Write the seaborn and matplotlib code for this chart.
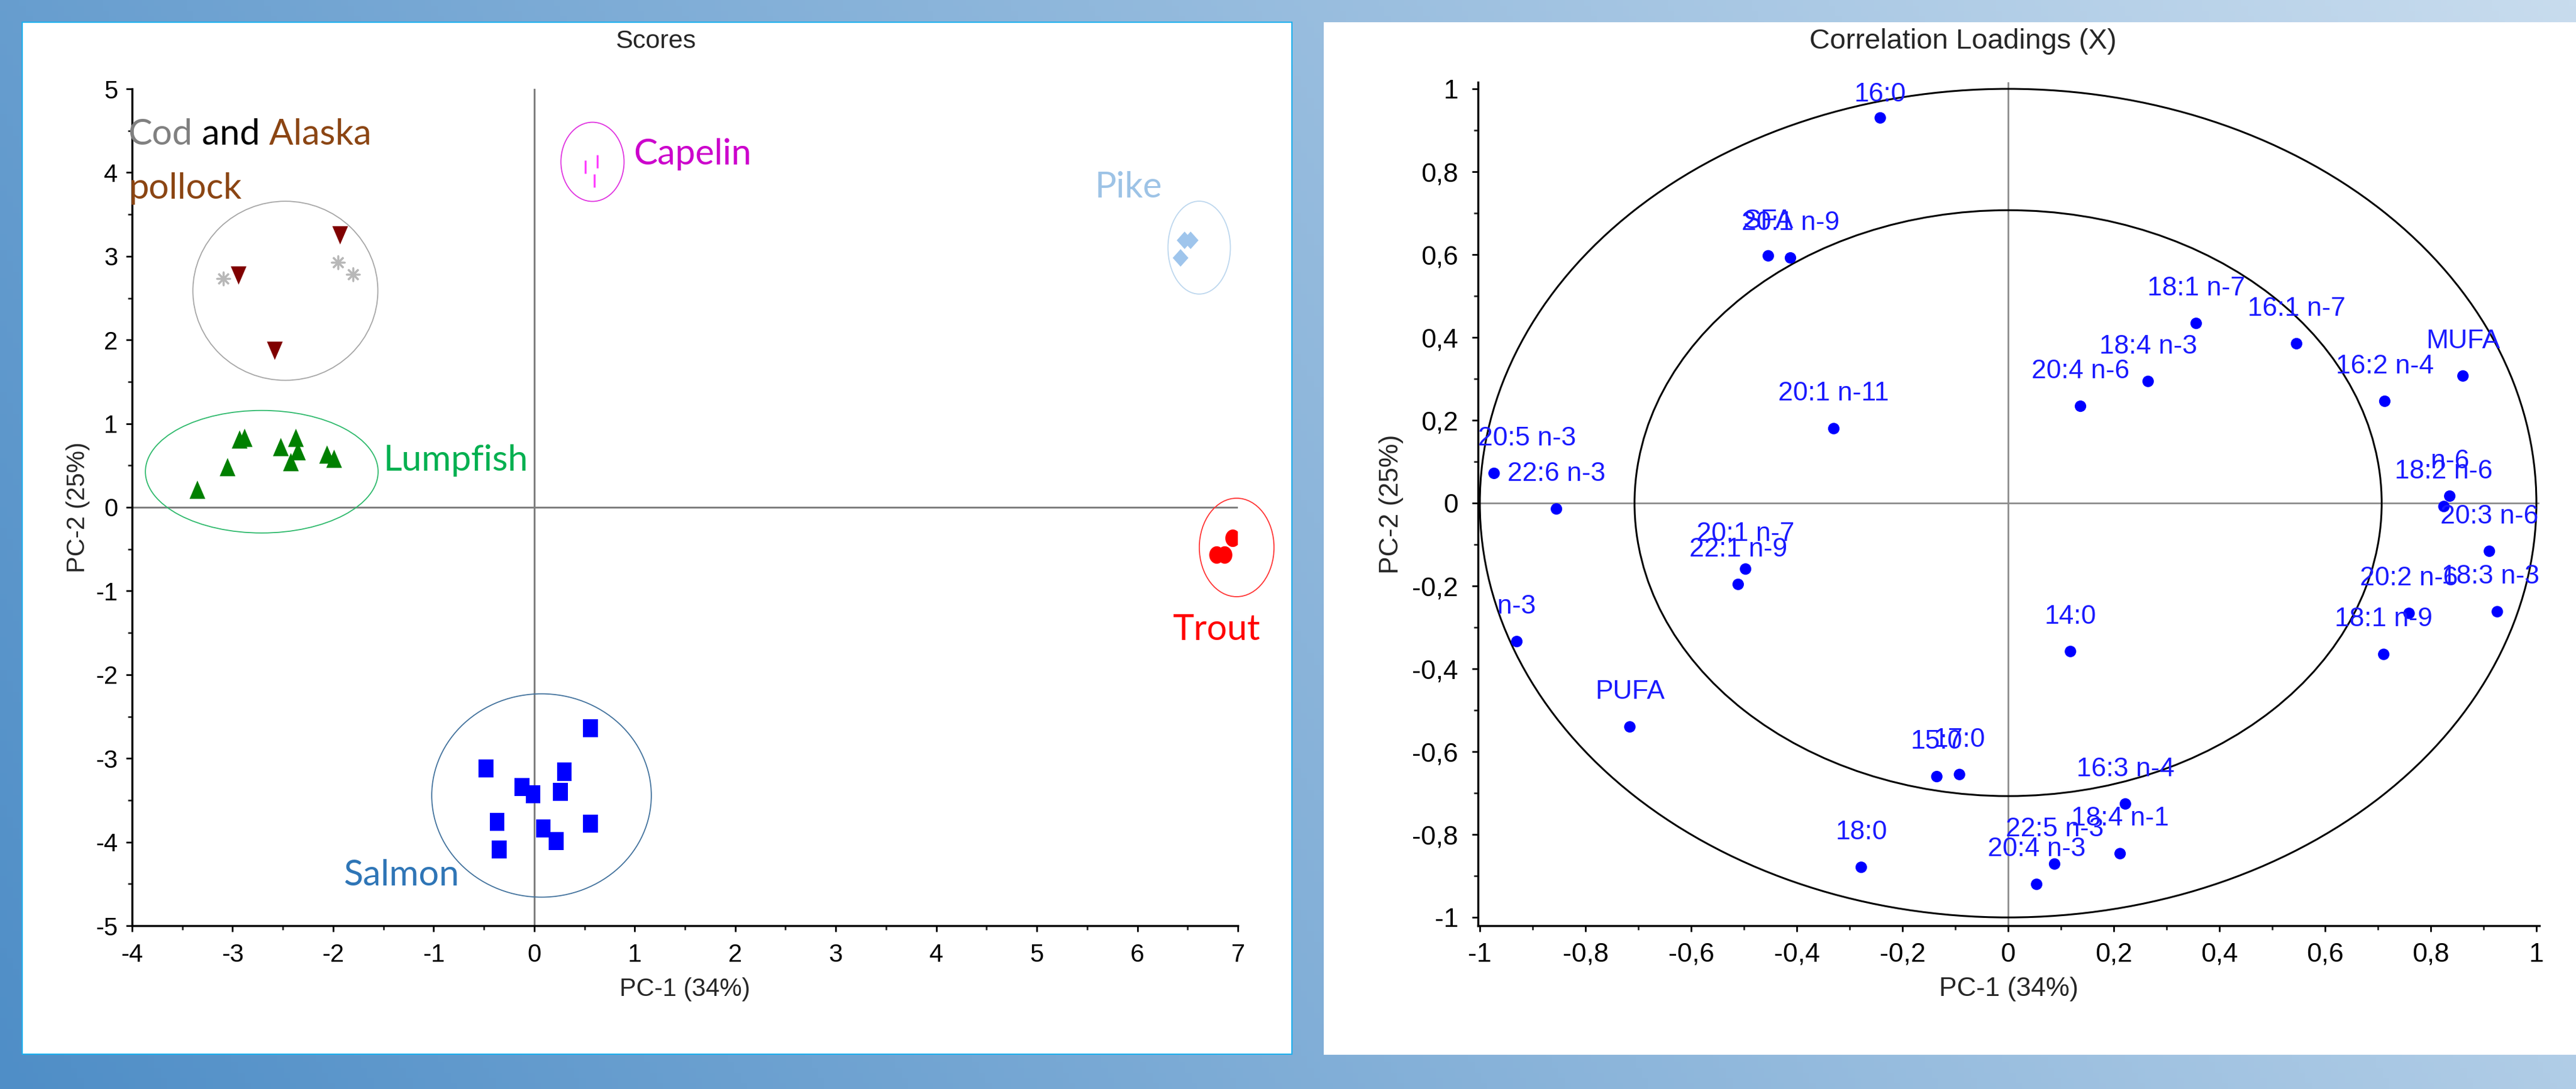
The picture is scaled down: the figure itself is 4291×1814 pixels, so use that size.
import numpy as np
import pandas as pd
import matplotlib
matplotlib.use("Agg")
import matplotlib.pyplot as plt
from matplotlib.patches import Ellipse, Rectangle
from matplotlib.markers import MarkerStyle
from matplotlib.ticker import MultipleLocator, FuncFormatter
import seaborn as sns

# ---------------- Scores (PC-1 / PC-2) ----------------
cod_x = [-3.09, -1.95, -1.80]
cod_y = [2.73, 2.93, 2.78]
pollock_x = [-2.94, -1.93, -2.58]
pollock_y = [2.77, 3.25, 1.87]
lumpfish_x = [-3.35, -3.05, -2.93, -2.88, -2.52, -2.37, -2.35, -2.42, -2.06, -1.99]
lumpfish_y = [0.21, 0.48, 0.81, 0.83, 0.72, 0.83, 0.67, 0.54, 0.63, 0.58]
capelin_x = [0.51, 0.63, 0.60]
capelin_y = [4.07, 4.13, 3.90]
pike_x = [6.47, 6.53, 6.43]
pike_y = [3.19, 3.19, 2.98]
trout_x = [6.95, 6.79, 6.87]
trout_y = [-0.37, -0.57, -0.57]
salmon_x = [0.56, -0.48, 0.30, -0.12, -0.01, 0.26, -0.37, 0.09, 0.22, 0.56, -0.35]
salmon_y = [-2.64, -3.12, -3.16, -3.34, -3.43, -3.40, -3.76, -3.84, -3.99, -3.78, -4.09]

# hand drawn group rings: centre and (width, height) in data units
ring_centre = {"Cod": (-2.475, 2.587), "Lumpfish": (-2.71, 0.425), "Salmon": (0.073, -3.444),
               "Pike": (6.615, 3.103), "Trout": (6.988, -0.48), "Capelin": (0.58, 4.128)}
ring_size = {"Cod": (1.84, 2.14), "Lumpfish": (2.315, 1.464), "Salmon": (2.184, 2.43),
             "Pike": (0.621, 1.11), "Trout": (0.743, 1.177), "Capelin": (0.628, 0.946)}

# ---------------- Correlation loadings ----------------
fa_names = ["16:0", "SFA", "20:1 n-9", "18:1 n-7", "16:1 n-7", "18:4 n-3", "20:4 n-6", "MUFA",
            "16:2 n-4", "20:1 n-11", "20:5 n-3", "22:6 n-3", "n-6", "18:2 n-6", "20:3 n-6",
            "20:2 n-6", "18:3 n-3", "18:1 n-9", "14:0", "n-3", "PUFA", "20:1 n-7", "22:1 n-9",
            "15:0", "17:0", "16:3 n-4", "18:4 n-1", "22:5 n-3", "20:4 n-3", "18:0"]
fa_pc1 = [-0.242, -0.454, -0.412, 0.356, 0.546, 0.265, 0.137, 0.861,
          0.713, -0.330, -0.973, -0.855, 0.836, 0.825, 0.911,
          0.759, 0.926, 0.711, 0.118, -0.930, -0.716, -0.497, -0.511,
          -0.135, -0.092, 0.222, 0.212, 0.088, 0.054, -0.278]
fa_pc2 = [0.930, 0.597, 0.592, 0.434, 0.385, 0.294, 0.234, 0.307,
          0.246, 0.180, 0.072, -0.014, 0.017, -0.008, -0.116,
          -0.266, -0.262, -0.365, -0.358, -0.334, -0.540, -0.159, -0.196,
          -0.660, -0.655, -0.726, -0.846, -0.871, -0.920, -0.879]

W, H = 4291, 1814


def ellipse_verts(sx):
    t = np.linspace(0, 2 * np.pi, 40)
    return list(zip(sx * np.cos(t), np.sin(t)))


def dec_comma(v, pos):
    if abs(v) < 1e-9:
        return "0"
    return ("%g" % round(v, 1)).replace(".", ",")


def draw_background(fig):
    bg = fig.add_axes([0, 0, 1, 1], zorder=-10)
    xf = np.linspace(0, 1, 400)[None, :]
    yf = np.linspace(0, 1, 200)[:, None]
    t = 0.8 * xf + 0.2 * yf
    c0 = np.array([79, 142, 199]) / 255.0
    c1 = np.array([200, 220, 238]) / 255.0
    img = c0[None, None, :] + (c1 - c0)[None, None, :] * t[:, :, None]
    bg.imshow(img, extent=[0, 1, 0, 1], origin="lower", aspect="auto")
    bg.add_patch(Rectangle((37 / W, 1 - 1756 / H), 2115 / W, 1719 / H,
                           facecolor="white", edgecolor="#1cb0ee", lw=1.5))
    bg.add_patch(Rectangle((2205 / W, 1 - 1757 / H), 2086 / W, 1720 / H,
                           facecolor="white", edgecolor="none"))
    bg.set_xlim(0, 1)
    bg.set_ylim(0, 1)
    bg.axis("off")


def style_axes(ax, lw=2.5):
    for side in ["top", "right"]:
        ax.spines[side].set_visible(False)
    for side in ["left", "bottom"]:
        ax.spines[side].set_linewidth(lw)
        ax.spines[side].set_color("black")
    ax.set_facecolor("white")
    ax.patch.set_alpha(0)


def plot_scores(fig):
    ax = fig.add_axes([220 / W, 1 - 1542 / H, 1842 / W, 1394 / H])
    style_axes(ax)

    scores = pd.DataFrame({
        "pc1": cod_x + pollock_x + lumpfish_x + capelin_x + pike_x + trout_x + salmon_x,
        "pc2": cod_y + pollock_y + lumpfish_y + capelin_y + pike_y + trout_y + salmon_y,
        "species": ["Cod"] * len(cod_x) + ["Pollock"] * len(pollock_x)
                   + ["Lumpfish"] * len(lumpfish_x) + ["Capelin"] * len(capelin_x)
                   + ["Pike"] * len(pike_x) + ["Trout"] * len(trout_x)
                   + ["Salmon"] * len(salmon_x),
    })

    ax.axhline(0, color="#808080", lw=2.2, zorder=1)
    ax.axvline(0, color="#808080", lw=2.2, zorder=1)

    styles = {
        "Cod": dict(marker=(8, 2, 0), s=230, color="#b8b8b8", linewidth=2.4),
        "Pollock": dict(marker=MarkerStyle([(-0.43, 0.5), (0.43, 0.5), (0, -0.5)]),
                        s=480, color="#800000", edgecolor="none"),
        "Lumpfish": dict(marker=MarkerStyle([(-0.43, -0.5), (0.43, -0.5), (0, 0.5)]),
                         s=480, color="#008000", edgecolor="none"),
        "Capelin": dict(marker="|", s=230, color="#ff40ff", linewidth=2.4),
        "Pike": dict(marker=MarkerStyle([(0, 0.5), (0.45, 0), (0, -0.5), (-0.45, 0)]),
                     s=440, color="#9fc5ec", edgecolor="none"),
        "Trout": dict(marker=MarkerStyle(ellipse_verts(0.86)), s=440, color="#ff0000",
                      edgecolor="none"),
        "Salmon": dict(marker=MarkerStyle([(-0.41, -0.5), (0.41, -0.5), (0.41, 0.5), (-0.41, 0.5)]),
                       s=470, color="#0000ff", edgecolor="none"),
    }
    for sp, kw in styles.items():
        sub = scores[scores["species"] == sp]
        sns.scatterplot(data=sub, x="pc1", y="pc2", ax=ax, legend=False, zorder=3, **kw)

    ring_colors = {"Cod": "#a6a6a6", "Lumpfish": "#2db96b", "Salmon": "#41719c",
                   "Pike": "#bdd7ee", "Trout": "#ff3333", "Capelin": "#e033e0"}
    for g, c in ring_colors.items():
        ax.add_patch(Ellipse(ring_centre[g], ring_size[g][0], ring_size[g][1], fill=False,
                             edgecolor=c, lw=1.3, clip_on=False, zorder=2))

    lab = dict(fontsize=43, family=["Lato", "DejaVu Sans"])
    t1 = ax.text(-4.04, 4.33, "Cod", color="#808080", va="baseline", ha="left", **lab)
    t2 = ax.annotate(" and", xy=(1, 0), xycoords=t1, va="bottom", ha="left", color="black", **lab)
    ax.annotate(" Alaska", xy=(1, 0), xycoords=t2, va="bottom", ha="left", color="#8b4513", **lab)
    ax.text(-4.03, 3.69, "pollock", color="#8b4513", va="baseline", ha="left", **lab)
    ax.text(0.985, 4.22, "Capelin", color="#cc00cc", va="center", ha="left", **lab)
    ax.text(5.576, 3.82, "Pike", color="#9dc3e6", va="center", ha="left", **lab)
    ax.text(-1.50, 0.56, "Lumpfish", color="#00b050", va="center", ha="left", **lab)
    ax.text(6.35, -1.46, "Trout", color="#ff0000", va="center", ha="left", **lab)
    ax.text(-1.90, -4.40, "Salmon", color="#2e75b6", va="center", ha="left", **lab)

    ax.set_xlim(-4, 7)
    ax.set_ylim(-5, 5)
    ax.xaxis.set_major_locator(MultipleLocator(1))
    ax.xaxis.set_minor_locator(MultipleLocator(0.5))
    ax.yaxis.set_major_locator(MultipleLocator(1))
    ax.yaxis.set_minor_locator(MultipleLocator(0.5))
    fmt = FuncFormatter(lambda v, p: "%d" % round(v))
    ax.xaxis.set_major_formatter(fmt)
    ax.yaxis.set_major_formatter(fmt)
    ax.tick_params(which="major", direction="out", length=7, width=2, labelsize=30, pad=14,
                   colors="black")
    ax.tick_params(which="minor", direction="out", length=5, width=2)
    ax.tick_params(axis="y", which="major", pad=10)

    ax.set_xlabel("PC-1 (34%)", fontsize=30)
    ax.set_ylabel("PC-2 (25%)", fontsize=30)
    ax.xaxis.set_label_coords(0.5, -0.076)
    ax.xaxis.label.set_va("center")
    ax.yaxis.set_label_coords(-0.049, 0.5)
    ax.yaxis.label.set_va("center")
    fig.text(1092 / W, 1 - 69 / H, "Scores", ha="center", va="center", fontsize=31)


def plot_loadings(fig):
    ax = fig.add_axes([2462.4 / W, 1 - 1542 / H, 1767.9 / W, 1405 / H])
    style_axes(ax)

    loadings = pd.DataFrame({"name": fa_names, "pc1": fa_pc1, "pc2": fa_pc2})

    ax.axhline(0, color="#8c8c8c", lw=2, zorder=1)
    ax.axvline(0, color="#8c8c8c", lw=2, zorder=1)
    for r in [1.0, np.sqrt(0.5)]:
        ax.add_patch(Ellipse((0, 0), 2 * r, 2 * r, fill=False, edgecolor="black", lw=2.2, zorder=2))

    sns.scatterplot(data=loadings, x="pc1", y="pc2", ax=ax, color="#0000ff", s=190,
                    edgecolor="none", legend=False, zorder=3)

    labels = []
    for _, row in loadings.iterrows():
        a = ax.annotate(row["name"], (row["pc1"], row["pc2"]), xytext=(0, 41.8),
                        textcoords="offset points", ha="center", va="center",
                        color="#1a1aff", fontsize=32, zorder=4)
        labels.append(a)

    ax.set_xlim(-1.003, 1.006)
    ax.set_ylim(-1.02, 1.016)
    ax.xaxis.set_major_locator(MultipleLocator(0.2))
    ax.xaxis.set_minor_locator(MultipleLocator(0.1))
    ax.yaxis.set_major_locator(MultipleLocator(0.2))
    ax.yaxis.set_minor_locator(MultipleLocator(0.1))
    ax.xaxis.set_major_formatter(FuncFormatter(dec_comma))
    ax.yaxis.set_major_formatter(FuncFormatter(dec_comma))
    ax.tick_params(which="major", direction="out", length=7, width=2, labelsize=32, pad=13,
                   colors="black")
    ax.tick_params(which="minor", direction="out", length=5, width=2)
    ax.tick_params(axis="y", which="major", pad=17)

    ax.set_xlabel("PC-1 (34%)", fontsize=32)
    ax.set_ylabel("PC-2 (25%)", fontsize=32)
    ax.xaxis.set_label_coords(0.5, -0.0754)
    ax.xaxis.label.set_va("center")
    ax.yaxis.set_label_coords(-0.0822, 0.5)
    ax.yaxis.label.set_va("center")
    fig.text(3270 / W, 1 - 69 / H, "Correlation Loadings (X)", ha="center", va="center",
             fontsize=34)

    # keep labels inside the plot frame, like the original software does
    fig.canvas.draw()
    renderer = fig.canvas.get_renderer()
    box = ax.get_window_extent(renderer)
    for a in labels:
        bb = a.get_window_extent(renderer)
        dx = dy = 0.0
        if bb.x0 < box.x0:
            dx = box.x0 - bb.x0
        if bb.x1 > box.x1:
            dx = box.x1 - bb.x1
        if bb.y1 > box.y1:
            dy = box.y1 - bb.y1
        if dx or dy:
            ox, oy = a.xyann
            a.xyann = (ox + dx * 72 / fig.dpi, oy + dy * 72 / fig.dpi)


def main():
    sns.set_style("ticks")
    plt.rcParams["font.family"] = ["Liberation Sans", "DejaVu Sans"]

    fig = plt.figure(figsize=(W / 100, H / 100), dpi=100)
    draw_background(fig)
    plot_scores(fig)
    plot_loadings(fig)
    fig.savefig("out.png", dpi=100)


if __name__ == "__main__":
    main()
